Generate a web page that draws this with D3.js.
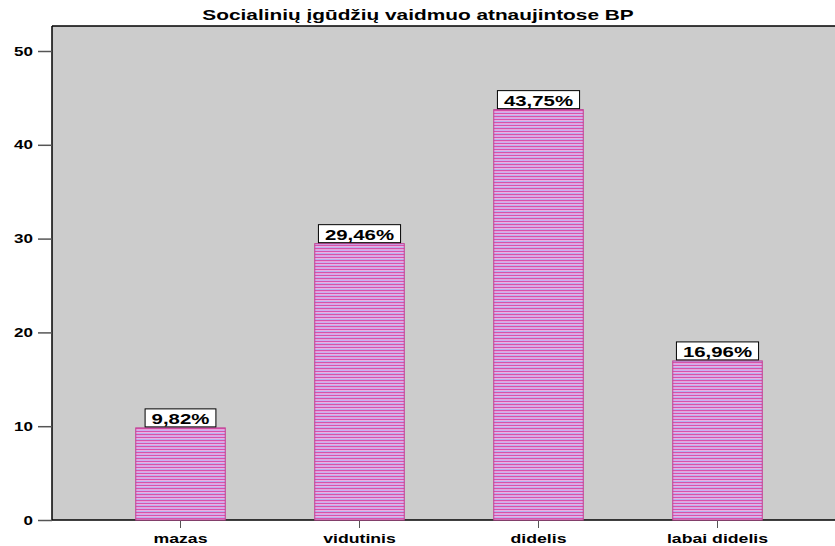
<!DOCTYPE html>
<html>
<head>
<meta charset="utf-8">
<script src="https://cdn.jsdelivr.net/npm/d3@7"></script>
<style>
  body { margin: 0; background: #fff; }
  text { font-family: "Liberation Sans", Arial, sans-serif; font-weight: bold; }
</style>
</head>
<body>
<div id="chart"></div>
<script>
var title = "Socialinių įgūdžių vaidmuo atnaujintose BP";
var categories = ["mazas", "vidutinis", "didelis", "labai didelis"];
var percents = [9.82, 29.46, 43.75, 16.96];
var yTicks = [0, 10, 20, 30, 40, 50];

var chartWidth = 835,
    chartHeight = 546;

var margin = { top: 26, right: 0, bottom: 26, left: 52 },
    width = chartWidth - margin.left - margin.right,
    height = chartHeight - margin.top - margin.bottom;

// the original font is a horizontally stretched Arial
var stretch = 1.36;

var svg = d3.select("#chart").append("svg")
    .attr("width", chartWidth)
    .attr("height", chartHeight);

// striped fill like the old SPSS bars
var defs = svg.append("defs");
var pat = defs.append("pattern")
    .attr("id", "stripes")
    .attr("patternUnits", "userSpaceOnUse")
    .attr("width", 8)
    .attr("height", 6);
var stripeColors = ["#d653ab", "#e8a2da", "#cbaef0", "#d653ab", "#eeaee2", "#b6b2ee"];
stripeColors.forEach(function(c, i) {
    pat.append("rect").attr("x", 0).attr("y", i).attr("width", 8).attr("height", 1).attr("fill", c);
});

var x = d3.scaleBand()
    .domain(categories)
    .range([91 - margin.left, 807 - margin.left])
    .paddingInner(0.5)
    .paddingOuter(0.25);

var y = d3.scaleLinear()
    .domain([0, 50])
    .range([height, height - 469]);

var g = svg.append("g")
    .attr("transform", "translate(" + margin.left + "," + margin.top + ")");

g.append("rect")
    .attr("width", width)
    .attr("height", height)
    .attr("fill", "#cccccc");

g.append("line").attr("x1", 0).attr("x2", width).attr("y1", 0).attr("y2", 0)
    .attr("stroke", "#000").attr("stroke-width", 1.5);

svg.append("text")
    .attr("transform", "translate(418,20) scale(1.37,1)")
    .attr("text-anchor", "middle")
    .style("font-size", "15.2px")
    .text(title);

// axes
var yAxis = g.append("g")
    .call(d3.axisLeft(y).tickValues(yTicks).tickSize(14).tickPadding(5));
yAxis.select(".domain").attr("stroke", "#000").attr("stroke-width", 1.5)
    .attr("d", "M0," + height + "V0");
yAxis.selectAll(".tick line").attr("stroke", "#555").attr("stroke-width", 1.5);
yAxis.selectAll(".tick text")
    .style("font-size", "12.5px")
    .attr("fill", "#000")
    .attr("x", -19 / stretch)
    .attr("transform", "scale(" + stretch + ",1)");

var xAxis = g.append("g")
    .attr("transform", "translate(0," + height + ")")
    .call(d3.axisBottom(x).tickSize(8).tickPadding(6));
xAxis.select(".domain").attr("stroke", "#000").attr("stroke-width", 1.5)
    .attr("d", "M0,0H" + width);
xAxis.selectAll(".tick line").attr("stroke", "#555");
xAxis.selectAll(".tick text")
    .style("font-size", "13px")
    .attr("fill", "#000")
    .attr("transform", "scale(" + stretch + ",1)");

// bars
g.selectAll(".bar")
    .data(percents)
    .enter()
    .append("rect")
    .attr("class", "bar")
    .attr("x", function(d, i) { return x(categories[i]); })
    .attr("y", function(d) { return y(d); })
    .attr("width", x.bandwidth())
    .attr("height", function(d) { return height - y(d); })
    .attr("fill", "url(#stripes)")
    .attr("stroke", "#c23c92")
    .attr("stroke-width", 1);

// value labels, box sized to the text
var labels = g.selectAll(".lbl")
    .data(percents)
    .enter()
    .append("g")
    .attr("class", "lbl")
    .attr("transform", function(d, i) {
        return "translate(" + (x(categories[i]) + x.bandwidth() / 2) + "," + y(d) + ")";
    });

var boxes = labels.append("rect")
    .attr("y", -19)
    .attr("height", 18)
    .attr("fill", "#fff")
    .attr("stroke", "#000")
    .attr("stroke-width", 1);

labels.append("text")
    .attr("y", -4)
    .attr("text-anchor", "middle")
    .attr("transform", "scale(" + stretch + ",1)")
    .style("font-size", "15px")
    .text(function(d) { return d.toFixed(2).replace(".", ",") + "%"; })
    .each(function() {
        var w = this.getComputedTextLength() * stretch + 13;
        d3.select(this.parentNode).select("rect")
            .attr("x", -w / 2)
            .attr("width", w);
    });
</script>
</body>
</html>
